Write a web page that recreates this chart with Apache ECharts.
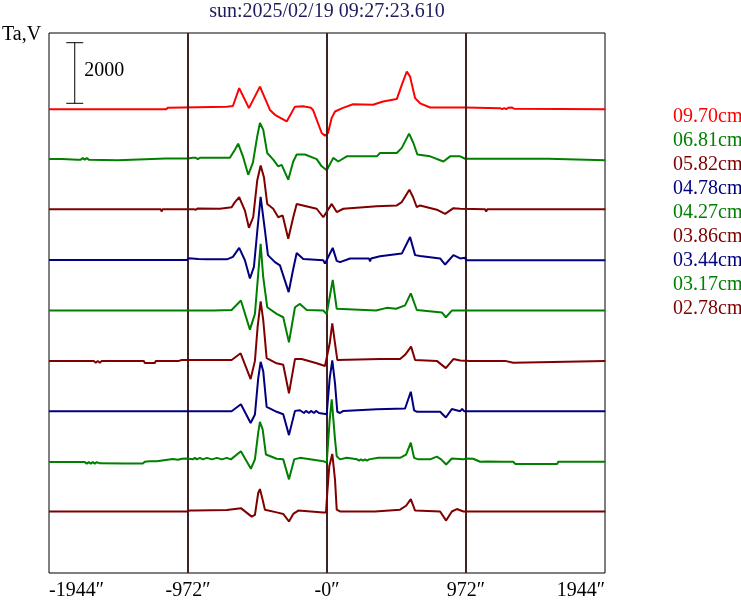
<!DOCTYPE html>
<html>
<head>
<meta charset="utf-8">
<script src="https://cdn.jsdelivr.net/npm/echarts@6/dist/echarts.min.js"></script>
<style>html,body{margin:0;padding:0;background:#fff}#c{width:741px;height:604px}</style>
</head>
<body>
<div id="c"></div>
<script>
// ---- data ----
const titleText = 'sun:2025/02/19 09:27:23.610';
const channels = ['09.70cm','06.81cm','05.82cm','04.78cm','04.27cm','03.86cm','03.44cm','03.17cm','02.78cm'];
const offsets = [15300, 13640, 11980, 10320, 8660, 7000, 5340, 3680, 2020];
const xTicks = [-1944, -972, 0, 972, 1944];
const guideLines = [-972, 0, 972];
const scaleBar = [[-1764, 15500, 17500, '2000']];

const s0970 = [[-1944,0],[-1365,0],[-1358,30],[-1351,0],[-1127,0],[-1113,50],[-700,90],[-658,110],[-614,700],[-546,40],[-469,750],[-399,-20],[-364,-180],[-282,-400],[-224,90],[-168,100],[-112,50],[-98,-20],[-37,-780],[-14,-870],[7,-780],[33,-280],[56,-70],[112,50],[182,170],[322,150],[392,260],[488,340],[523,810],[558,1250],[581,1080],[616,370],[651,200],[721,60],[966,60],[1211,40],[1225,10],[1239,40],[1253,10],[1267,50],[1295,60],[1309,20],[1946,0]];
const s0681 = [[-1944,20],[-1869,20],[-1862,50],[-1855,20],[-1743,0],[-1736,50],[-1722,0],[-1708,50],[-1694,0],[-1680,50],[-1666,0],[-1463,-20],[-1456,40],[-1127,40],[-1120,-20],[-1113,40],[-973,40],[-938,60],[-931,20],[-917,60],[-903,20],[-889,60],[-679,60],[-644,330],[-621,530],[-588,110],[-551,-500],[-518,-100],[-488,770],[-469,1210],[-446,990],[-418,220],[-376,0],[-341,-220],[-317,-170],[-271,-660],[-236,-60],[-212,170],[-154,170],[-72,20],[-37,-220],[-2,-350],[44,60],[79,-60],[138,110],[348,110],[371,220],[488,220],[523,390],[574,860],[604,550],[632,170],[721,110],[814,-60],[861,110],[931,110],[966,30],[1232,30],[1239,-30],[1246,30],[1281,30],[1288,-30],[1295,30],[1547,30],[1554,-20],[1946,-20]];
const s0582 = [[-1944,20],[-1162,20],[-1157,-50],[-1150,20],[-973,20],[-931,20],[-924,60],[-917,10],[-903,50],[-896,20],[-749,40],[-667,90],[-644,260],[-614,420],[-574,-20],[-546,-590],[-516,-240],[-488,970],[-464,1470],[-441,1080],[-418,200],[-376,40],[-341,-240],[-310,-180],[-271,-950],[-236,-240],[-212,200],[-168,150],[-72,40],[-26,-240],[-14,-240],[33,200],[68,-70],[114,40],[348,120],[488,150],[523,260],[576,670],[602,420],[628,90],[651,150],[768,10],[826,-130],[884,60],[931,40],[1106,20],[1113,-50],[1120,20],[1946,20]];
const s0478 = [[-1944,10],[-1302,10],[-1295,-50],[-1288,10],[-1246,10],[-1239,-50],[-1232,10],[-980,10],[-973,50],[-966,70],[-900,40],[-840,30],[-700,30],[-658,110],[-614,410],[-574,0],[-539,-600],[-511,-220],[-487,990],[-464,2090],[-453,2090],[-434,990],[-413,170],[-364,-60],[-329,-170],[-268,-1050],[-238,-330],[-212,240],[-166,40],[-26,0],[-14,-110],[40,410],[68,-20],[91,-60],[161,60],[294,60],[301,-40],[308,60],[371,130],[523,220],[581,770],[616,170],[651,140],[791,60],[826,-140],[884,170],[931,60],[966,80],[973,0],[1946,0]];
const s0427 = [[-1944,0],[-980,0],[-805,0],[-798,30],[-791,0],[-667,20],[-602,330],[-539,-630],[-504,-110],[-481,1210],[-464,2200],[-455,2200],[-446,1100],[-418,110],[-352,-110],[-306,-220],[-266,-1050],[-224,110],[-189,220],[-142,20],[-26,0],[-2,-110],[40,1010],[68,60],[72,20],[343,0],[418,90],[483,60],[546,170],[586,570],[628,20],[803,-60],[831,-220],[873,0],[1141,0],[1146,-60],[1153,0],[1274,0],[1281,-60],[1288,0],[1946,0]];
const s0386 = [[-1944,0],[-1911,0],[-1904,-60],[-1897,0],[-1652,0],[-1645,-60],[-1631,0],[-1617,-60],[-1603,0],[-1589,-60],[-1575,0],[-1540,0],[-1533,-60],[-1526,0],[-1281,0],[-1274,-70],[-1204,-70],[-1197,0],[-1071,0],[-1064,-60],[-1057,0],[-1036,0],[-1029,-60],[-1015,30],[-700,30],[-667,30],[-604,250],[-534,-600],[-504,0],[-485,1130],[-464,1960],[-455,1960],[-446,1350],[-422,90],[-352,-80],[-306,-130],[-266,-1070],[-224,60],[-177,60],[-72,-80],[-14,-170],[-2,-190],[19,580],[37,1240],[56,580],[72,30],[371,60],[385,60],[511,60],[546,200],[588,470],[616,30],[768,0],[831,-240],[884,60],[931,10],[1001,0],[1008,-50],[1015,0],[1050,0],[1057,-50],[1064,0],[1246,0],[1253,-60],[1302,-60],[1309,0],[1946,0]];
const s0344 = [[-1944,0],[-667,0],[-602,230],[-534,-390],[-504,-110],[-481,1080],[-464,1630],[-455,1630],[-446,1320],[-422,140],[-352,-20],[-306,-100],[-266,-790],[-224,10],[-189,30],[-161,-60],[-147,10],[-126,-60],[-112,10],[-91,-60],[-77,10],[-56,-60],[-2,-100],[19,1090],[37,1680],[56,920],[72,-20],[91,-60],[114,10],[348,60],[546,90],[586,640],[609,30],[630,-20],[791,-20],[831,-210],[873,70],[931,0],[938,0],[945,70],[959,0],[1946,0]];
const s0317 = [[-1944,-20],[-1876,-20],[-1869,20],[-1862,-20],[-1715,-20],[-1708,-70],[-1694,-20],[-1680,-70],[-1666,-20],[-1652,-70],[-1638,-20],[-1624,-70],[-1610,-20],[-1589,-60],[-1414,-70],[-1288,-70],[-1274,-10],[-1239,10],[-1190,10],[-1183,50],[-1078,80],[-1043,60],[-1015,90],[-980,100],[-938,70],[-924,120],[-910,70],[-889,120],[-868,70],[-840,120],[-805,70],[-770,120],[-735,70],[-700,120],[-672,70],[-602,340],[-532,-240],[-504,70],[-481,950],[-469,1310],[-450,1060],[-427,230],[-352,90],[-306,70],[-266,-590],[-229,70],[-189,120],[-26,10],[-2,-40],[19,1390],[33,2050],[42,2050],[56,730],[68,170],[91,70],[138,120],[210,70],[224,30],[238,70],[252,30],[266,70],[280,30],[294,70],[359,120],[511,120],[553,230],[586,620],[609,120],[639,70],[721,70],[768,160],[798,70],[833,-100],[873,100],[954,70],[966,70],[973,100],[1022,90],[1071,-10],[1120,0],[1232,-10],[1302,-10],[1316,-80],[1400,-80],[1407,-40],[1414,-80],[1470,-80],[1477,-40],[1484,-80],[1540,-80],[1547,-40],[1554,-80],[1610,-80],[1617,-10],[1946,-10]];
const s0278 = [[-1944,10],[-980,10],[-959,40],[-938,40],[-931,80],[-924,40],[-700,60],[-602,120],[-527,-160],[-504,-100],[-481,620],[-469,750],[-450,400],[-434,70],[-352,-20],[-306,-70],[-266,-320],[-236,-70],[-201,40],[-26,-20],[-7,-20],[2,630],[16,1500],[37,1910],[56,1060],[68,70],[91,10],[217,10],[224,-50],[231,10],[322,10],[329,-50],[336,10],[511,70],[553,200],[586,420],[616,40],[791,10],[833,-290],[873,10],[908,90],[954,10],[1946,10]];
const traces = [s0970, s0681, s0582, s0478, s0427, s0386, s0344, s0317, s0278];

// ---- styles ----
const colors = ['#ff0000','#008000','#800000','#000080','#008000','#800000','#000080','#008000','#800000'];
const FONT = 'Liberation Serif';

const series = traces.map((pts, i) => ({
  name: channels[i], type: 'line', showSymbol: false, symbol: 'none',
  data: pts.map(p => [p[0], p[1] + offsets[i]]),
  lineStyle: { color: colors[i], width: 2 }, itemStyle: { color: colors[i] },
  animation: false, silent: true, z: 2 + i
}));

series.push({
  name: 'guides', type: 'line', data: [], silent: true, z: 20,
  markLine: {
    silent: true, symbol: ['none','none'], animation: false,
    label: { show: false },
    lineStyle: { color: '#3f2222', width: 2, type: 'solid' },
    emphasis: { disabled: true },
    data: guideLines.map(v => ({ xAxis: v }))
  }
});

series.push({
  name: 'scale', type: 'custom', silent: true, z: 21, animation: false,
  data: scaleBar,
  renderItem: function (params, api) {
    const p0 = api.coord([api.value(0), api.value(1)]);
    const p1 = api.coord([api.value(0), api.value(2)]);
    const hw = 8.5;
    const st = { stroke: '#000', lineWidth: 1 };
    return { type: 'group', children: [
      { type: 'line', shape: { x1: p0[0], y1: p0[1], x2: p1[0], y2: p1[1] }, style: st },
      { type: 'line', shape: { x1: p0[0]-hw, y1: p0[1], x2: p0[0]+hw, y2: p0[1] }, style: st },
      { type: 'line', shape: { x1: p1[0]-hw, y1: p1[1], x2: p1[0]+hw, y2: p1[1] }, style: st },
      { type: 'text', style: { text: scaleBar[params.dataIndex][3], x: p0[0]+hw+1, y: (p0[1]+p1[1])/2 - 2,
        fill: '#000', font: '20px "' + FONT + '"', verticalAlign: 'middle', align: 'left' } }
    ]};
  }
});

const chart = echarts.init(document.getElementById('c'), null, { renderer: 'canvas' });
chart.setOption({
  backgroundColor: '#ffffff',
  animation: false,
  title: [
    { text: titleText, left: 327, top: 2, padding: 0, textAlign: 'center',
      textStyle: { fontFamily: FONT, fontSize: 20, fontWeight: 'normal', color: '#1c1c5e' } },
    { text: 'Ta,V', left: 2, top: 25, padding: 0,
      textStyle: { fontFamily: FONT, fontSize: 20, fontWeight: 'normal', color: '#000' } }
  ],
  legend: {
    orient: 'vertical', left: 668, top: 107, padding: 0, itemGap: 4,
    itemWidth: 0, itemHeight: 10, icon: 'none', selectedMode: false,
    textStyle: { fontFamily: FONT, fontSize: 20, lineHeight: 20 },
    data: channels.map((c, i) => ({ name: c, textStyle: { color: colors[i] } }))
  },
  grid: { left: 49, right: 136, top: 33, bottom: 31, show: true, borderColor: '#000', borderWidth: 1, backgroundColor: 'transparent' },
  xAxis: {
    type: 'value', min: xTicks[0], max: xTicks[xTicks.length-1], interval: 972,
    axisLine: { show: false }, axisTick: { show: false }, splitLine: { show: false },
    axisLabel: { margin: 8, fontFamily: FONT, fontSize: 20, color: '#000',
      alignMinLabel: 'left', alignMaxLabel: 'right',
      formatter: v => (v === 0 ? '-0' : String(v)) + '\u2033' }
  },
  yAxis: { type: 'value', min: 0, max: 17820, show: false, splitLine: { show: false } },
  series: series
});
</script>
</body>
</html>
